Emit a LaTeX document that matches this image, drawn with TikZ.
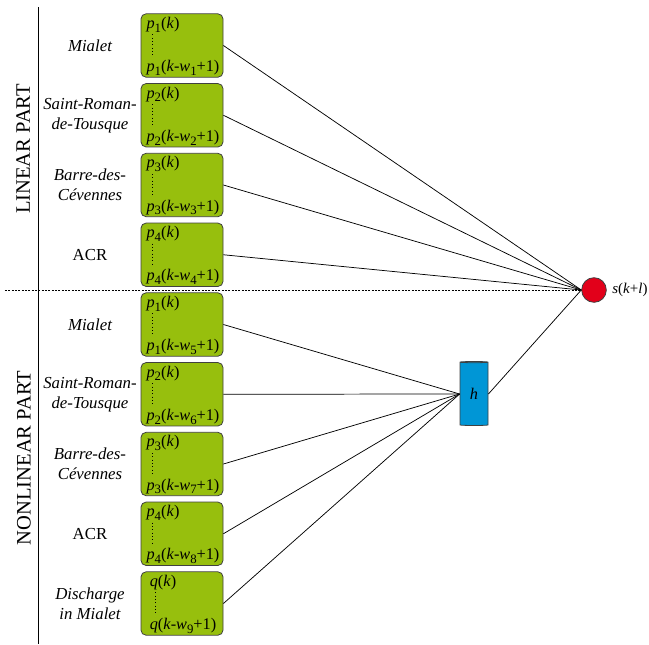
\documentclass[tikz,border=0pt]{standalone}
\usepackage{fontspec}
\setmainfont{Liberation Serif}
\usetikzlibrary{calc, shapes.geometric}

\definecolor{lagGreen}{RGB}{151,191,13}
\definecolor{outRed}{RGB}{226,0,26}
\definecolor{hBlue}{RGB}{0,150,214}

\newcommand{\lsub}[1]{\raisebox{-0.5ex}{\fontsize{9.6}{10}\selectfont #1}}
\newcommand{\pvar}[1]{\textit{p}\lsub{#1}}
\newcommand{\lagterm}[2]{#1(\textit{k}-\textit{w}\lsub{#2}+1)}

\tikzset{
	lagbox/.style={draw=black!75, fill=lagGreen, line width=0.6pt, rounded corners=3.75pt, minimum width=61.5pt, minimum height=47.5pt},
	lagtxt/.style={inner sep=0pt, font=\fontsize{12.2}{14}\selectfont},
	station/.style={align=center, font=\fontsize{12.6}{15}\selectfont\itshape},
	partlabel/.style={rotate=90, font=\fontsize{15.4}{18}\selectfont},
	wire/.style={line width=0.55pt},
}

\begin{document}
\begin{tikzpicture}[x=0.75pt, y=-0.75pt]
	\useasboundingbox (0,0) rectangle (649,644);

	% output and hidden unit
	\node[circle, draw=black!75, fill=outRed, line width=0.6pt, minimum size=18.5pt, inner sep=0pt] (s) at (594,290) {};
	\node[anchor=west, inner sep=0pt, font=\fontsize{11.2}{13}\selectfont] (slabel) at ([xshift=4pt]s.east) {\textit{s}(\textit{k}+\textit{l})};
	\node[cylinder, shape border rotate=90, aspect=0.15, draw=black!75, fill=hBlue, line width=0.6pt, minimum width=21pt, minimum height=48pt, inner sep=0pt, font=\fontsize{12.2}{14}\selectfont] (h) at (474,394) {\textit{h}};
	\draw[wire] (h.east) -- (s.west);

	% separators
	\coordinate (vtop) at (38,7);
	\coordinate (vbot) at (38,644);
	\draw[line width=0.75pt] (vtop) -- (vbot);
	\coordinate (dleft) at (5,290);
	\draw[line width=0.6pt, dash pattern=on 1.5pt off 1pt] (dleft) -- (s.west);

	\node[partlabel] (linear) at (23,149) {LINEAR PART};
	\node[partlabel] (nonlinear) at (24,458) {NONLINEAR PART};

	% delayed inputs
	\foreach \i/\yc/\var/\w/\place/\tgt in {
		1/45.5/\pvar{1}/1/{Mialet}/s,
		2/115.25/\pvar{2}/2/{Saint-Roman-\\de-Tousque}/s,
		3/185/\pvar{3}/3/{Barre-des-\\Cévennes}/s,
		4/254.75/\pvar{4}/4/{\upshape ACR}/s,
		5/324.5/\pvar{1}/5/{Mialet}/h,
		6/394.25/\pvar{2}/6/{Saint-Roman-\\de-Tousque}/h,
		7/464/\pvar{3}/7/{Barre-des-\\Cévennes}/h,
		8/533.75/\pvar{4}/8/{\upshape ACR}/h,
		9/603.5/\textit{q}/9/{Discharge\\in Mialet}/h}
	{
		\node[lagbox] (box\i) at (182,\yc) {};
		\node[lagtxt, anchor=base] (lo\i) at ([xshift=0.75pt, yshift=4.5pt]box\i.south) {\lagterm{\var}{\w}};
		\node[lagtxt, anchor=base west] (hi\i) at ($(box\i.north -| lo\i.west)+(0,15)$) {\var(\textit{k})};
		\draw[dotted, line width=0.5pt] ([xshift=4.5pt, yshift=-1.5pt]hi\i.south west) -- ([xshift=4.5pt, yshift=2.25pt]lo\i.north west);
		\node[station] (st\i) at (90,\yc) {\place};
		\draw[wire] (box\i.east) -- (\tgt.west);
	}
\end{tikzpicture}
\end{document}
